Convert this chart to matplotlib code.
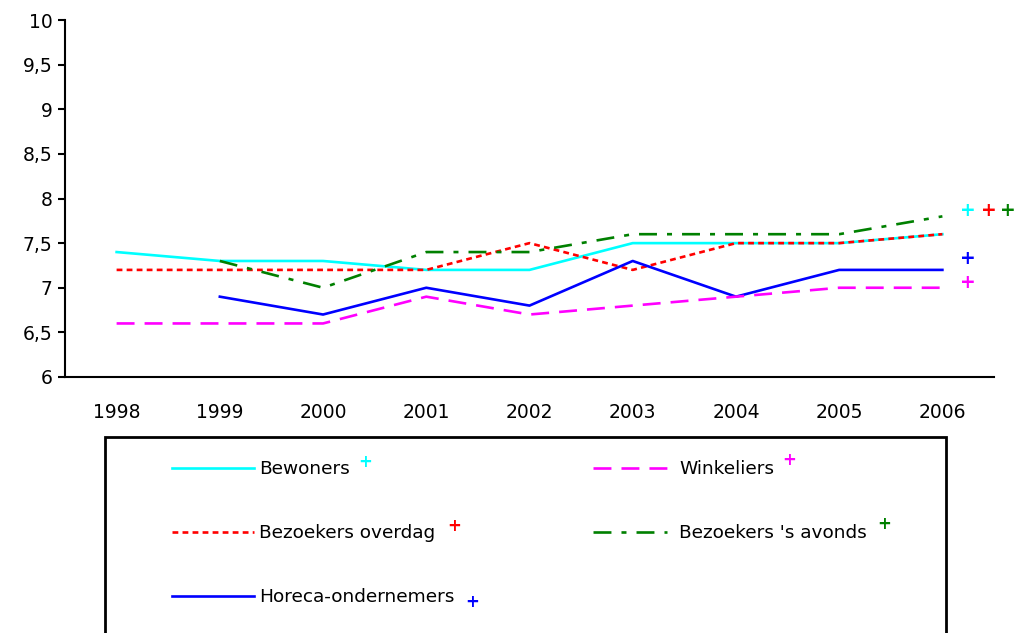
import matplotlib
matplotlib.use("Agg")
import matplotlib.pyplot as plt
from matplotlib.patches import Rectangle
from matplotlib.ticker import FuncFormatter

# Rapportcijfers per doelgroep (None = geen meting)
years = ["1998", "1999", "2000", "2001", "2002", "2003", "2004", "2005", "2006"]
bewoners = [7.4, 7.3, 7.3, 7.2, 7.2, 7.5, 7.5, 7.5, 7.6]
winkeliers = [6.6, 6.6, 6.6, 6.9, 6.7, 6.8, 6.9, 7.0, 7.0]
bezoekers_dag = [7.2, 7.2, 7.2, 7.2, 7.5, 7.2, 7.5, 7.5, 7.6]
bezoekers_avond = [None, 7.3, 7.0, 7.4, 7.4, 7.6, 7.6, 7.6, 7.8]
horeca = [None, 6.9, 6.7, 7.0, 6.8, 7.3, 6.9, 7.2, 7.2]

plt.rcParams['font.family'] = ['DejaVu Sans']
FS = 13.5
LFS = 13.3

fig = plt.figure(figsize=(10.16, 6.33), dpi=100)
W, H = 1016, 633
ax = fig.add_axes([65 / W, 1 - 377 / H, (994 - 65) / W, (377 - 20) / H])

x = list(range(len(years)))


def clean(vals):
    xs = [i for i, v in zip(x, vals) if v is not None]
    ys = [v for v in vals if v is not None]
    return xs, ys


lw = 1.9
l1, = ax.plot(*clean(bewoners), color="#00ffff", lw=lw, label="Bewoners")
l2, = ax.plot(*clean(bezoekers_dag), color="#ff0000", lw=lw, dashes=(2.2, 1.6),
              label="Bezoekers overdag")
l3, = ax.plot(*clean(horeca), color="#0000ff", lw=lw, label="Horeca-ondernemers")
l4, = ax.plot(*clean(winkeliers), color="#ff00ff", lw=lw, dashes=(6.8, 3.8),
              label="Winkeliers")
l5, = ax.plot(*clean(bezoekers_avond), color="#008000", lw=lw,
              dashes=(6.8, 3.8, 1.9, 3.8), label="Bezoekers 's avonds")

ax.set_xlim(-0.5, len(years) - 0.5)
ax.set_ylim(6, 10)
ax.set_yticks([6, 6.5, 7, 7.5, 8, 8.5, 9, 9.5, 10])
ax.yaxis.set_major_formatter(FuncFormatter(lambda v, p: f"{v:g}".replace(".", ",")))
ax.set_xticks(x)
ax.set_xticklabels(years)
ax.tick_params(axis="y", direction="out", length=5, width=1.5, pad=4, labelsize=FS)
ax.tick_params(axis="x", length=0, pad=19, labelsize=FS)
for side in ["top", "right"]:
    ax.spines[side].set_visible(False)
for side in ["left", "bottom"]:
    ax.spines[side].set_linewidth(1.5)

# significance markers right of the plot
for xp, yp, c in [(8.25, 7.87, "#00ffff"), (8.45, 7.87, "#ff0000"),
                  (8.63, 7.87, "#008000"), (8.25, 7.33, "#0000ff"),
                  (8.25, 7.06, "#ff00ff")]:
    ax.text(xp, yp, "+", color=c, fontsize=FS, fontweight="bold",
            ha="center", va="center", clip_on=False)

# legend box
fig.patches.append(Rectangle((105 / W, -0.05), (946 - 105) / W, 1 - 437 / H + 0.05,
                             transform=fig.transFigure, fill=False,
                             edgecolor="black", lw=2))
leg1 = fig.legend(handles=[l1, l2, l3], loc="upper left",
                  bbox_to_anchor=(172 / W, 1 - 460 / H), frameon=False,
                  fontsize=LFS, handlelength=4.45, handletextpad=0.25,
                  labelspacing=2.5, borderpad=0, borderaxespad=0)
leg2 = fig.legend(handles=[l4, l5], loc="upper left",
                  bbox_to_anchor=(593 / W, 1 - 460 / H), frameon=False,
                  fontsize=LFS, handlelength=4.0, handletextpad=0.65,
                  labelspacing=2.5, borderpad=0, borderaxespad=0)

# plus markers in the legend
for px, py, c in [(365, 462, "#00ffff"), (454, 526, "#ff0000"),
                  (472, 602, "#0000ff"), (789, 460, "#ff00ff"),
                  (884, 524, "#008000")]:
    fig.text(px / W, 1 - py / H, "+", color=c, fontsize=12, fontweight="bold",
             ha="center", va="center")

fig.savefig("out.png", dpi=100)
